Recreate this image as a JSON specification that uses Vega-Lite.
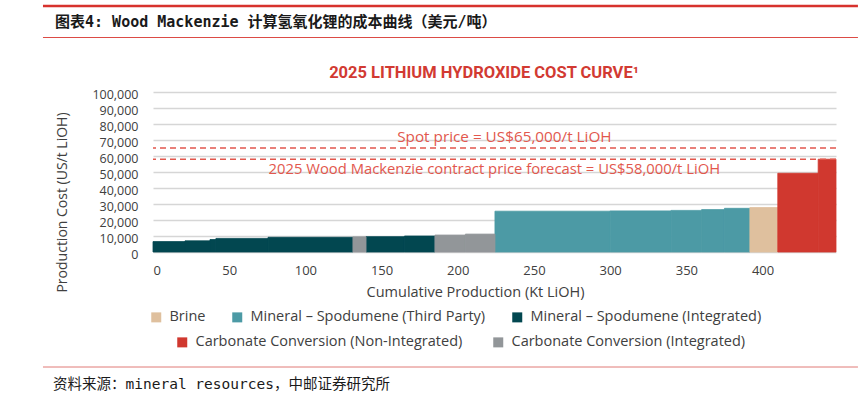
{
  "$schema": "https://vega.github.io/schema/vega-lite/v6.json",
  "width": 683,
  "height": 160,
  "autosize": {"type": "none"},
  "padding": {"left": 153, "top": 92, "right": 22, "bottom": 145},
  "background": "white",
  "config": {
    "view": {"stroke": null},
    "font": "Open Sans",
    "axisY": {
      "grid": true, "gridColor": "#d6d6d6", "gridWidth": 1.5,
      "tickCount": 10, "format": ",d", "labelOverlap": false,
      "domain": false, "ticks": false, "tickSize": 0,
      "labelPadding": 15, "labelFontSize": 12.5, "labelColor": "#404040", "labelFont": "Open Sans",
      "labelOffset": 2.5,
      "titleFont": "Open Sans", "titleFontSize": 14, "titleFontWeight": "normal", "titleColor": "#404040",
      "titleX": -84, "titleY": 110
    },
    "axisX": {
      "grid": false, "tickCount": 9, "labelOverlap": false,
      "domain": false, "ticks": false, "tickSize": 0,
      "labelPadding": 12, "labelFontSize": 13, "labelColor": "#404040", "labelFont": "Open Sans",
      "titleFont": "Open Sans", "titleFontSize": 14.5, "titleFontWeight": "normal", "titleColor": "#404040",
      "titlePadding": 8, "titleX": 322
    }
  },
  "datasets": {
    "segments": [
      {"start": 0, "end": 21, "cost": 6500, "type": "Mineral – Spodumene (Integrated)", "group": "A"},
      {"start": 21, "end": 37.4, "cost": 7000, "type": "Mineral – Spodumene (Integrated)", "group": "A"},
      {"start": 37.4, "end": 41.3, "cost": 7800, "type": "Mineral – Spodumene (Integrated)", "group": "A"},
      {"start": 41.3, "end": 75.5, "cost": 8500, "type": "Mineral – Spodumene (Integrated)", "group": "A"},
      {"start": 75.5, "end": 131.2, "cost": 9200, "type": "Mineral – Spodumene (Integrated)", "group": "A"},
      {"start": 131.2, "end": 139.8, "cost": 9500, "type": "Carbonate Conversion (Integrated)", "group": "B"},
      {"start": 139.8, "end": 165, "cost": 9600, "type": "Mineral – Spodumene (Integrated)", "group": "A"},
      {"start": 165, "end": 185, "cost": 10000, "type": "Mineral – Spodumene (Integrated)", "group": "A"},
      {"start": 185, "end": 205, "cost": 10600, "type": "Carbonate Conversion (Integrated)", "group": "B"},
      {"start": 205, "end": 224.4, "cost": 11200, "type": "Carbonate Conversion (Integrated)", "group": "B"},
      {"start": 224.4, "end": 300, "cost": 25500, "type": "Mineral – Spodumene (Third Party)", "group": "A"},
      {"start": 300, "end": 340, "cost": 25700, "type": "Mineral – Spodumene (Third Party)", "group": "A"},
      {"start": 340, "end": 360, "cost": 26000, "type": "Mineral – Spodumene (Third Party)", "group": "A"},
      {"start": 360, "end": 375, "cost": 26500, "type": "Mineral – Spodumene (Third Party)", "group": "A"},
      {"start": 375, "end": 391.7, "cost": 27300, "type": "Mineral – Spodumene (Third Party)", "group": "A"},
      {"start": 391.7, "end": 410, "cost": 27800, "type": "Brine", "group": "A"},
      {"start": 410, "end": 436.5, "cost": 49200, "type": "Carbonate Conversion (Non-Integrated)", "group": "B"},
      {"start": 436.5, "end": 448.2, "cost": 58000, "type": "Carbonate Conversion (Non-Integrated)", "group": "B"}
    ]
  },
  "layer": [
    {
      "data": {"name": "segments"},
      "transform": [{"filter": "datum.group === 'A'"}],
      "mark": {"type": "rect", "strokeWidth": 0.8},
      "encoding": {
        "x": {
          "field": "start", "type": "quantitative",
          "title": "Cumulative Production (Kt LiOH)",
          "scale": {"domain": [0, 448.2], "nice": false, "zero": false}
        },
        "x2": {"field": "end"},
        "y": {
          "field": "cost", "type": "quantitative",
          "title": "Production Cost (US/t LiOH)",
          "scale": {"domain": [0, 100000], "nice": false}
        },
        "y2": {"datum": 0},
        "fill": {
          "field": "type", "type": "nominal",
          "scale": {
            "domain": ["Brine", "Mineral – Spodumene (Third Party)", "Mineral – Spodumene (Integrated)"],
            "range": ["#dfc09e", "#4c9aa5", "#024750"]
          },
          "legend": {
            "orient": "none", "legendX": -4, "legendY": 218,
            "direction": "horizontal", "title": null,
            "symbolType": "square", "symbolSize": 100, "symbolStrokeWidth": 0, "symbolOpacity": 1,
            "labelFont": "Open Sans", "labelFontSize": 14.5, "labelColor": "#404040", "labelLimit": 400,
            "labelOffset": 6, "columnPadding": 24, "padding": 0
          }
        },
        "stroke": {
          "field": "type", "type": "nominal",
          "scale": {
            "domain": ["Brine", "Mineral – Spodumene (Third Party)", "Mineral – Spodumene (Integrated)"],
            "range": ["#dfc09e", "#4c9aa5", "#024750"]
          },
          "legend": null
        }
      }
    },
    {
      "data": {"name": "segments"},
      "transform": [{"filter": "datum.group === 'B'"}],
      "mark": {"type": "rect", "strokeWidth": 0.8},
      "encoding": {
        "x": {"field": "start", "type": "quantitative", "title": "Cumulative Production (Kt LiOH)"},
        "x2": {"field": "end"},
        "y": {"field": "cost", "type": "quantitative", "title": "Production Cost (US/t LiOH)"},
        "y2": {"datum": 0},
        "fill": {
          "field": "type", "type": "nominal",
          "scale": {
            "domain": ["Carbonate Conversion (Non-Integrated)", "Carbonate Conversion (Integrated)"],
            "range": ["#d0382f", "#929699"]
          },
          "legend": {
            "orient": "none", "legendX": 22, "legendY": 243,
            "direction": "horizontal", "title": null,
            "symbolType": "square", "symbolSize": 100, "symbolStrokeWidth": 0, "symbolOpacity": 1,
            "labelFont": "Open Sans", "labelFontSize": 14.5, "labelColor": "#404040", "labelLimit": 400,
            "labelOffset": 6, "columnPadding": 28, "padding": 0
          }
        },
        "stroke": {
          "field": "type", "type": "nominal",
          "scale": {
            "domain": ["Carbonate Conversion (Non-Integrated)", "Carbonate Conversion (Integrated)"],
            "range": ["#d0382f", "#929699"]
          },
          "legend": null
        }
      }
    },
    {
      "data": {"values": [{}]},
      "mark": {"type": "rule", "color": "#e2574d", "strokeWidth": 1.5, "strokeDash": [6, 4]},
      "encoding": {"y": {"datum": 65000}}
    },
    {
      "data": {"values": [{}]},
      "mark": {"type": "rule", "color": "#e2574d", "strokeWidth": 1.5, "strokeDash": [6, 4]},
      "encoding": {"y": {"datum": 58000}}
    },
    {
      "data": {"values": [{}]},
      "mark": {"type": "text", "text": "Spot price = US$65,000/t LiOH", "color": "#e2574d", "font": "Open Sans", "fontSize": 15.3, "align": "center", "baseline": "middle", "dy": -11},
      "encoding": {"x": {"datum": 230.6}, "y": {"datum": 65000}}
    },
    {
      "data": {"values": [{}]},
      "mark": {"type": "text", "text": "2025 Wood Mackenzie contract price forecast = US$58,000/t LiOH", "color": "#e2574d", "font": "Open Sans", "fontSize": 14.8, "align": "center", "baseline": "middle", "dy": 11},
      "encoding": {"x": {"datum": 224}, "y": {"datum": 58000}}
    },
    {
      "data": {"values": [{}]},
      "mark": {"type": "text", "text": "2025 LITHIUM HYDROXIDE COST CURVE¹", "color": "#d23a32", "font": "Roboto", "fontSize": 16.5, "fontWeight": "bold", "align": "center", "baseline": "middle"},
      "encoding": {"x": {"datum": 217.2}, "y": {"datum": 111875}}
    },
    {
      "data": {"values": [{}]},
      "mark": {"type": "rule", "color": "#d7322d", "strokeWidth": 2.5},
      "encoding": {"x": {"datum": -72.2}, "x2": {"datum": 462.6}, "y": {"datum": 153750}}
    },
    {
      "data": {"values": [{}]},
      "mark": {"type": "rule", "color": "#dc4b45", "strokeWidth": 1},
      "encoding": {"x": {"datum": -72.2}, "x2": {"datum": 462.6}, "y": {"datum": 134060}}
    },
    {
      "data": {"values": [{}]},
      "mark": {"type": "rule", "color": "#e07a76", "strokeWidth": 1},
      "encoding": {"x": {"datum": -72.2}, "x2": {"datum": 462.6}, "y": {"datum": -71875}}
    },
    {
      "data": {"values": [{}]},
      "mark": {"type": "text", "text": "图表4: Wood Mackenzie 计算氢氧化锂的成本曲线（美元/吨）", "color": "#1a1a1a", "font": "'DejaVu Sans Mono', 'Noto Sans CJK SC'", "fontSize": 15, "fontWeight": "bold", "align": "left", "baseline": "middle"},
      "encoding": {"x": {"datum": -64.3}, "y": {"datum": 143750}}
    },
    {
      "data": {"values": [{}]},
      "mark": {"type": "text", "text": "资料来源：mineral resources，中邮证券研究所", "color": "#1a1a1a", "font": "'DejaVu Sans Mono', 'Noto Sans CJK SC'", "fontSize": 14.5, "align": "left", "baseline": "middle"},
      "encoding": {"x": {"datum": -65.6}, "y": {"datum": -83125}}
    }
  ],
  "resolve": {"scale": {"fill": "independent", "stroke": "independent"}}
}
